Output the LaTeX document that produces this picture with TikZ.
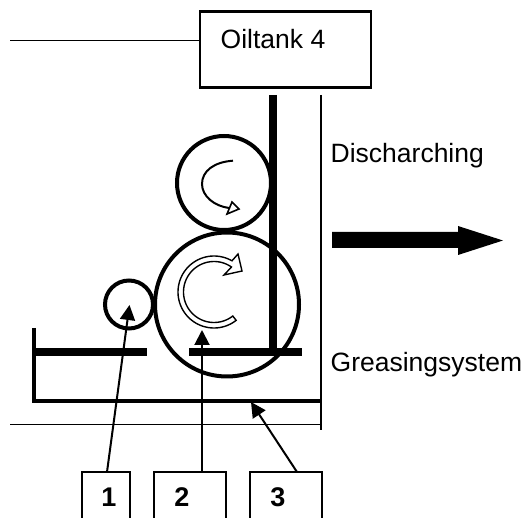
\documentclass[tikz,border=0pt]{standalone}
\usepackage{fontspec}
\setmainfont{Liberation Sans}
\usetikzlibrary{arrows.meta}
\tikzset{
  boxed/.style={draw=black,line width=2.3pt,rectangle,inner sep=0pt,outer sep=0pt},
  roller/.style={draw=black,line width=4pt,circle,inner sep=0pt,outer sep=0pt},
  txt/.style={font=\fontsize{26.5}{30}\selectfont,inner sep=0pt,anchor=base west},
  num/.style={font=\fontsize{27}{30}\selectfont\bfseries,inner sep=0pt,anchor=base},
  thin line/.style={draw=black,line width=1.5pt},
  heavy/.style={draw=black,line width=7.5pt},
  medium/.style={draw=black,line width=3.8pt},
  pointer/.style={draw=black,line width=2pt,-{Triangle[length=15pt,width=15pt]}},
}
\begin{document}
\begin{tikzpicture}[x=1pt,y=-1pt]
\useasboundingbox (0,0) rectangle (525,518);
\begin{scope}
\clip (0,0) rectangle (525,518);
% boxes
\node[boxed,minimum width=171pt,minimum height=76pt] (oil) at (285.5,49.5) {};
\node[txt] (oiltext) at (220.5,49) {Oiltank 4};
\coordinate (feed) at (10,40.5);
\draw[thin line] (feed) -- (feed -| oil.west);
% walls
\coordinate (wallT) at (321,95);
\coordinate (wallB) at (321,430);
\coordinate (beltT) at (273,95);
\coordinate (beltB) at (273,352);
\draw[thin line] (wallT) -- (wallB);
% rollers
\node[roller,minimum size=94pt] (top) at (224,183) {};
\node[roller,minimum size=144pt] (big) at (227,304.5) {};
\node[roller,minimum size=48pt] (small) at (129,304.5) {};
\draw[heavy] (beltT) -- (beltB);
% tray
\coordinate (trayTL) at (34,328);
\coordinate (trayBL) at (34,401);
\coordinate (trayBR) at (321,401);
\draw[medium,line join=miter] (trayTL) -- (trayBL) -- (trayBR);
\coordinate (a1) at (34,352);
\coordinate (a2) at (147,352);
\coordinate (b1) at (189,352);
\coordinate (b2) at (302,352);
\draw[heavy] (a1) -- (a2);
\draw[heavy] (b1) -- (b2);
\coordinate (floorL) at (10,424.5);
\coordinate (floorR) at (321,424.5);
\draw[thin line] (floorL) -- (floorR);
% numbered boxes
\node[boxed,minimum width=48pt,minimum height=70pt] (n1) at (106,507) {};
\node[boxed,minimum width=72pt,minimum height=70pt] (n2) at (190,507) {};
\node[boxed,minimum width=72pt,minimum height=70pt] (n3) at (286,507) {};
\node[num] (t1) at (109,507) {1};
\node[num] (t2) at (182,507) {2};
\node[num] (t3) at (278,507) {3};
\coordinate (p1s) at (107,472);
\coordinate (p1e) at (129.5,305);
\coordinate (p2s) at (202,472);
\coordinate (p2e) at (202,330);
\coordinate (p3s) at (297,472);
\coordinate (p3e) at (251,402);
\draw[pointer] (p1s) -- (p1e);
\draw[pointer] (p2s) -- (p2e);
\draw[pointer] (p3s) -- (p3e);
% labels
\node[txt] (dis) at (330.5,163) {Discharching};
\node[txt] (gre) at (330.5,372) {Greasingsystem};
% discharge arrow
\fill[black] (332,232) -- (458,232) -- (458,226) -- (503,240.5) -- (458,255) -- (458,248) -- (332,248) -- cycle;
% small rotation arrow
\draw[black,line width=2pt] (233,160.7) .. controls (214,162) and (202,171) .. (202,184) .. controls (202,196) and (214,206) .. (229,208);
\draw[black,line width=1.6pt,fill=white,line join=miter] (239,209) -- (232,202) -- (227,214) -- cycle;
% large rotation arrow
\draw[black,line width=1.4pt,fill=white,line join=miter]
  plot[domain=-60:-308,samples=70] ({214+36*cos(\x)},{292+36*sin(\x)})
  -- plot[domain=-308:-55,samples=70] ({214+30.5*cos(\x)},{292+30.5*sin(\x)})
  -- (224,275) -- (242,271) -- (238,254) -- cycle;
\end{scope}
\end{tikzpicture}
\end{document}
